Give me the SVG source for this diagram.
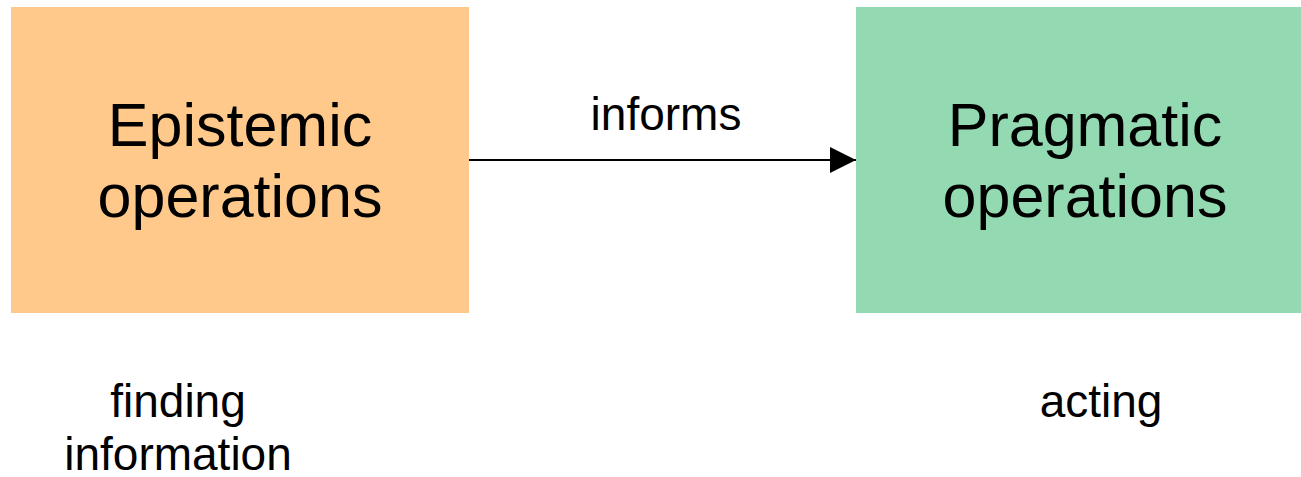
<svg xmlns="http://www.w3.org/2000/svg" width="1301" height="477" viewBox="0 0 1301 477">
  <style>
    text { font-family: "Liberation Sans", Arial, sans-serif; fill: #000; text-anchor: middle; }
    .big { font-size: 61px; }
    .small { font-size: 46px; }
    .conn { stroke: #000; stroke-width: 2; fill: none; }
  </style>
  <defs>
    <marker id="arrow" markerWidth="26" markerHeight="26" refX="26" refY="13" orient="auto" markerUnits="userSpaceOnUse">
      <path d="M0,0 L26,13 L0,26 Z" fill="#000"/>
    </marker>
  </defs>
  <rect width="1301" height="477" fill="#fff"/>

  <g id="epistemic">
    <rect x="11" y="7" width="458" height="306" fill="#ffc98b"/>
    <text class="big" x="240" y="146">Epistemic</text>
    <text class="big" x="240" y="217">operations</text>
  </g>

  <g id="pragmatic">
    <rect x="856" y="7" width="458" height="306" fill="#93d9b1"/>
    <text class="big" x="1085" y="146">Pragmatic</text>
    <text class="big" x="1085" y="217">operations</text>
  </g>

  <g id="connectors">
    <line class="conn" x1="469" y1="160" x2="856" y2="160" marker-end="url(#arrow)"/>
    <text class="small" x="666" y="130">informs</text>
  </g>

  <g id="caption-epistemic">
    <text class="small" x="178" y="417">finding</text>
    <text class="small" x="178" y="470">information</text>
  </g>

  <g id="caption-pragmatic">
    <text class="small" x="1101" y="417">acting</text>
  </g>
</svg>
